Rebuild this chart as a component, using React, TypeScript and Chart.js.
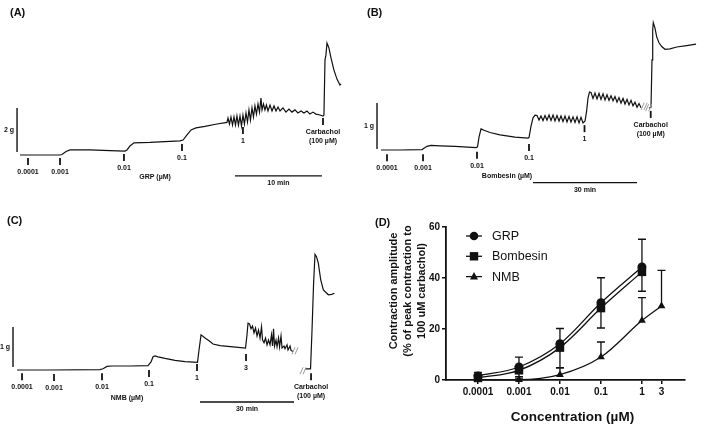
import React, { useEffect, useRef } from "react";
import { Chart, registerables } from "chart.js";
Chart.register(...registerables);

const FONT = "'Liberation Sans', Arial, Helvetica, sans-serif";
const INK = "#111111";

// ---------- Panel A: GRP trace (time in min, tension in g) ----------
const grpTime = [0, 4.6, 4.83, 5.29, 5.75, 8.05, 10.34, 12.07, 12.3, 12.64, 13.1, 14.94, 18.39, 18.74, 19.2, 19.66, 20.23, 21.26, 22.64, 23.79,
  23.91, 24.08, 24.25, 24.43, 24.6, 24.77, 24.94, 25.11, 25.29, 25.46, 25.63, 25.8, 25.98, 26.15, 26.32, 26.49, 26.67, 26.84, 27.01, 27.18,
  27.36, 27.53, 27.7, 27.82, 27.99, 28.16, 28.33, 28.51, 28.74, 28.97, 29.2, 29.43, 29.66, 29.89, 30.23, 30.57, 30.92, 31.26, 31.61, 31.95,
  32.3, 32.64, 32.99, 33.33, 33.68, 34.02, 34.48, 34.83, 34.94, 35.06, 35.17, 35.29, 35.52, 35.75, 36.09, 36.44, 36.78, 36.9];
const grpTension = [0, 0, 0.02, 0.16, 0.23, 0.23, 0.2, 0.18, 0.23, 0.41, 0.55, 0.57, 0.64, 0.68, 0.91, 1.14, 1.23, 1.3, 1.41, 1.48,
  1.68, 1.41, 1.73, 1.36, 1.73, 1.36, 1.77, 1.36, 1.77, 1.32, 1.82, 1.41, 1.91, 1.5, 2.05, 1.59, 2.14, 1.73, 2.23, 1.86,
  2.32, 1.95, 2.59, 2.05, 2.32, 2.05, 2.27, 2.0, 2.27, 2.0, 2.23, 2.0, 2.18, 2.0, 2.14, 1.95, 2.09, 1.95, 2.05, 1.91,
  2.0, 1.91, 2.0, 1.86, 1.95, 1.86, 1.82, 1.77, 1.82, 4.32, 4.55, 5.09, 4.86, 4.41, 3.86, 3.45, 3.18, 3.23];
const grpDoseTime = [0.92, 4.6, 11.95, 18.62, 25.63, 34.83];
const grpDoseLabel = [["0.0001"], ["0.001"], ["0.01"], ["0.1"], ["1"], ["Carbachol", "(100 µM)"]];

// ---------- Panel B: Bombesin trace ----------
const bomTime = [0, 5.48, 11.83, 12.4, 13.27, 14.42, 17.02, 21.35, 27.4, 27.84, 28.27, 28.85, 29.71, 31.44, 34.33, 38.65, 42.4, 42.69, 43.27, 43.85, 44.42,
  45.0, 45.58, 46.15, 46.73, 47.31, 47.88, 48.46, 49.04, 49.62, 50.19, 50.77, 51.35, 51.92, 52.5, 53.08, 53.65, 54.23, 54.81, 55.38, 55.96, 56.54, 57.12, 57.69, 58.27, 58.85,
  59.28, 59.71, 60.14,
  60.58, 61.15, 61.73, 62.31, 62.88, 63.46, 64.04, 64.62, 65.19, 65.77, 66.35, 66.92, 67.5, 68.08, 68.65, 69.23, 69.81, 70.38, 70.96, 71.54, 72.12, 72.69, 73.27, 73.85, 74.42, 75.0,
  76.6,
  77.31, 77.88, 78.17, 78.37, 78.54, 79.03, 79.52, 80.19, 80.97, 81.92, 83.36, 85.3, 88.18, 90.87];
const bomTension = [0, 0, 0.01, 0.04, 0.08, 0.1, 0.09, 0.08, 0.05, 0.07, 0.28, 0.46, 0.43, 0.38, 0.33, 0.28, 0.26, 0.27, 0.52, 0.7, 0.76,
  0.75, 0.65, 0.74, 0.64, 0.75, 0.65, 0.76, 0.64, 0.76, 0.63, 0.75, 0.63, 0.74, 0.62, 0.74, 0.61, 0.73, 0.61, 0.72, 0.6, 0.72, 0.59, 0.71, 0.59, 0.63,
  0.83, 1.13, 1.26,
  1.25, 1.12, 1.24, 1.11, 1.23, 1.1, 1.22, 1.09, 1.2, 1.08, 1.18, 1.07, 1.16, 1.04, 1.14, 1.02, 1.12, 1.0, 1.1, 0.98, 1.08, 0.96, 1.04, 0.93, 1.01, 0.92,
  null,
  0.91, 0.93, 1.96, 2.61, 2.77, 2.65, 2.46, 2.33, 2.25, 2.19, 2.2, 2.24, 2.27, 2.3];
const bomDoseTime = [1.73, 12.12, 27.69, 42.69, 58.7, 77.8];
const bomDoseLabel = [["0.0001"], ["0.001"], ["0.01"], ["0.1"], ["1"], ["Carbachol", "(100 µM)"]];

// ---------- Panel C: NMB trace ----------
const nmbTime = [0, 10.53, 26.49, 27.45, 28.73, 30.32, 36.07, 41.81, 42.77, 43.41, 44.05, 45.01, 47.24, 50.43, 53.62, 57.61, 58.09, 58.73,
  60.01, 61.28, 62.56, 64.79, 68.94, 72.93, 73.41, 73.73, 74.21, 74.69, 75.17, 75.65, 76.13, 76.6, 77.08, 77.56, 78.04, 78.36, 78.84,
  79.32, 79.8, 80.27, 80.75, 81.23, 81.55, 81.87, 82.19, 82.67, 82.99, 83.47, 83.79, 84.26, 84.58, 85.22, 85.54, 86.18, 86.5, 87.14, 87.46, 88.1,
  90.0,
  91.92, 93.68, 94.16, 94.64, 95.11, 95.59, 96.17, 96.94, 97.77, 99.36, 100.45, 101.28];
const nmbTension = [0, 0, 0.01, 0.03, 0.09, 0.1, 0.1, 0.11, 0.2, 0.33, 0.35, 0.33, 0.29, 0.24, 0.21, 0.19, 0.5, 0.88,
  0.8, 0.73, 0.65, 0.61, 0.58, 0.55, 0.88, 1.17, 1.15, 1.03, 1.1, 0.93, 1.05, 0.85, 1.0, 0.8, 1.08, 0.75, 0.68,
  0.8, 0.63, 0.75, 0.63, 0.88, 0.6, 1.03, 0.6, 0.75, 0.58, 0.8, 0.58, 0.85, 0.55, 0.6, 0.53, 0.63, 0.5, 0.6, 0.49, 0.46,
  null,
  0.03, 0.03, 1.0, 2.13, 2.89, 2.83, 2.67, 2.25, 2.0, 1.88, 1.89, 1.92];
const nmbDoseTime = [1.6, 11.81, 27.13, 42.13, 57.45, 73.09, 93.84];
const nmbDoseLabel = [["0.0001"], ["0.001"], ["0.01"], ["0.1"], ["1"], ["3"], ["Carbachol", "(100 µM)"]];

// ---------- Panel D: concentration-response ----------
const concTicks = [0.0001, 0.001, 0.01, 0.1, 1, 3];
const concTickLabels = ["0.0001", "0.001", "0.01", "0.1", "1", "3"];
const grpConc = [0.0001, 0.001, 0.01, 0.1, 1];
const grpMean = [1.6, 5.1, 14.2, 30.3, 44.3];
const grpErrUp = [1.4, 3.9, 6.0, 9.8, 10.9];
const bomConc = [0.0001, 0.001, 0.01, 0.1, 1];
const bomMean = [0.8, 3.8, 12.7, 28.2, 42.4];
const bomErrDown = [0.8, 2.5, 7.9, 7.8, 7.6];
const nmbConc = [0.0001, 0.001, 0.01, 0.1, 1, 3];
const nmbMean = [0.1, 0.1, 2.1, 9.0, 23.3, 29.0];
const nmbErrUp = [0.4, 0.6, 2.7, 5.9, 9.0, 14.0];
const yTickValues = [0, 20, 40, 60];

// ---------- annotation layouts (positions only) ----------
const panelA = {
  time: grpTime, tension: grpTension, doseTime: grpDoseTime, doseLabel: grpDoseLabel,
  markTop: [-0.14, -0.14, 0.05, 0.5, 1.27, 1.68],
  xMin: -2.3, xMax: 38.51, yMin: -2.5, yMax: 7.045,
  letter: "(A)", letterX: 10, letterY: 12.5,
  scaleBar: { t: -0.34, g0: 0.14, g1: 2.14, label: "2 g" },
  timeBar: { t0: 24.71, t1: 34.71, g: -0.95, label: "10 min" },
  agent: { text: "GRP (µM)", t: 15.52, g: -1.0 },
  breaks: [] as any[],
};
const panelB = {
  time: bomTime, tension: bomTension, doseTime: bomDoseTime, doseLabel: bomDoseLabel,
  markTop: [-0.09, -0.09, -0.04, 0.13, 0.54, 0.85],
  xMin: -7.5, xMax: 94.61, yMin: -1.304, yMax: 3.261,
  letter: "(B)", letterX: 12, letterY: 12.5,
  scaleBar: { t: -1.15, g0: 0.02, g1: 1.02, label: "1 g" },
  timeBar: { t0: 43.85, t1: 73.85, g: -0.71, label: "30 min" },
  agent: { text: "Bombesin (µM)", t: 36.35, g: -0.57 },
  breaks: [{ t: 75.9, g: 0.95 }, { t: 77.2, g: 0.92 }],
};
const panelC = {
  time: nmbTime, tension: nmbTension, doseTime: nmbDoseTime, doseLabel: nmbDoseLabel,
  markTop: [-0.08, -0.1, -0.08, 0.0, 0.15, 0.4, -0.08],
  xMin: -5.43, xMax: 109.47, yMin: -1.375, yMax: 4.0,
  letter: "(C)", letterX: 7, letterY: 11,
  scaleBar: { t: -1.28, g0: 0.075, g1: 1.075, label: "1 g" },
  timeBar: { t0: 58.41, t1: 88.41, g: -0.8, label: "30 min" },
  agent: { text: "NMB (µM)", t: 35.11, g: -0.7 },
  breaks: [{ t: 88.73, g: 0.48 }, { t: 91.29, g: -0.02 }],
};

function tracePlugin(p: any) {
  return {
    id: "traceAnnot",
    afterDatasetsDraw(chart: any) {
      const { ctx } = chart;
      const x = chart.scales.x;
      const y = chart.scales.y;
      ctx.save();
      ctx.fillStyle = INK;
      ctx.strokeStyle = INK;
      ctx.textBaseline = "middle";
      ctx.font = `bold 11px ${FONT}`;
      ctx.textAlign = "left";
      ctx.fillText(p.letter, p.letterX, p.letterY);

      ctx.font = `bold 7px ${FONT}`;
      ctx.textAlign = "center";
      p.doseTime.forEach((t: number, i: number) => {
        const px = x.getPixelForValue(t);
        const py = y.getPixelForValue(p.markTop[i]);
        ctx.lineWidth = 1.8;
        ctx.beginPath();
        ctx.moveTo(px, py);
        ctx.lineTo(px, py + 7);
        ctx.stroke();
        p.doseLabel[i].forEach((s: string, k: number) => ctx.fillText(s, px, py + 14 + k * 9));
      });

      // vertical scale bar
      const sb = p.scaleBar;
      const sx = x.getPixelForValue(sb.t);
      const sy0 = y.getPixelForValue(sb.g0);
      const sy1 = y.getPixelForValue(sb.g1);
      ctx.lineWidth = 1.4;
      ctx.beginPath();
      ctx.moveTo(sx, sy0);
      ctx.lineTo(sx, sy1);
      ctx.stroke();
      ctx.textAlign = "right";
      ctx.fillText(sb.label, sx - 3, (sy0 + sy1) / 2);

      // time bar
      const tb = p.timeBar;
      const tx0 = x.getPixelForValue(tb.t0);
      const tx1 = x.getPixelForValue(tb.t1);
      const ty = y.getPixelForValue(tb.g);
      ctx.lineWidth = 1.3;
      ctx.beginPath();
      ctx.moveTo(tx0, ty);
      ctx.lineTo(tx1, ty);
      ctx.stroke();
      ctx.textAlign = "center";
      ctx.fillText(tb.label, (tx0 + tx1) / 2, ty + 7);

      // agent label
      ctx.fillText(p.agent.text, x.getPixelForValue(p.agent.t), y.getPixelForValue(p.agent.g));

      // break marks
      ctx.strokeStyle = "#9a9a9a";
      ctx.lineWidth = 1;
      p.breaks.forEach((b: any) => {
        const bx = x.getPixelForValue(b.t);
        const by = y.getPixelForValue(b.g);
        [-1.5, 1.5].forEach((d) => {
          ctx.beginPath();
          ctx.moveTo(bx + d - 1.5, by + 3.5);
          ctx.lineTo(bx + d + 1.5, by - 3.5);
          ctx.stroke();
        });
      });
      ctx.restore();
    },
  };
}

function makeTrace(canvas: HTMLCanvasElement, p: any) {
  return new Chart(canvas, {
    type: "line",
    data: {
      datasets: [
        {
          data: p.time.map((t: number, i: number) => ({ x: t, y: p.tension[i] })),
          borderColor: INK,
          borderWidth: 1.2,
          pointRadius: 0,
          tension: 0,
          spanGaps: false,
          fill: false,
        },
      ],
    },
    options: {
      responsive: false,
      animation: false,
      events: [],
      layout: { padding: 0 },
      plugins: { legend: { display: false }, tooltip: { enabled: false } },
      scales: {
        x: { type: "linear", display: false, min: p.xMin, max: p.xMax },
        y: { type: "linear", display: false, min: p.yMin, max: p.yMax },
      },
    },
    plugins: [tracePlugin(p)],
  } as any);
}

const doseSeries = [
  { label: "GRP", conc: grpConc, mean: grpMean, up: grpErrUp, down: null as any, style: "circle", r: 4.5 },
  { label: "Bombesin", conc: bomConc, mean: bomMean, up: null as any, down: bomErrDown, style: "rect", r: 6 },
  { label: "NMB", conc: nmbConc, mean: nmbMean, up: nmbErrUp, down: null as any, style: "triangle", r: 4.5 },
];

const doseExtras = {
  id: "doseExtras",
  beforeDatasetsDraw(chart: any) {
    const { ctx } = chart;
    const y = chart.scales.y;
    ctx.save();
    ctx.strokeStyle = INK;
    ctx.lineWidth = 1.3;
    doseSeries.forEach((s, i) => {
      const meta = chart.getDatasetMeta(i);
      s.mean.forEach((m: number, j: number) => {
        const px = meta.data[j].x;
        const py = y.getPixelForValue(m);
        const ends: number[] = [];
        if (s.up) ends.push(y.getPixelForValue(m + s.up[j]));
        if (s.down) ends.push(y.getPixelForValue(Math.max(0, m - s.down[j])));
        ends.forEach((e) => {
          ctx.beginPath();
          ctx.moveTo(px, py);
          ctx.lineTo(px, e);
          ctx.moveTo(px - 4, e);
          ctx.lineTo(px + 4, e);
          ctx.stroke();
        });
      });
    });
    ctx.restore();
  },
  afterDraw(chart: any) {
    const { ctx, chartArea } = chart;
    ctx.save();
    ctx.fillStyle = INK;
    ctx.strokeStyle = INK;
    // panel letter
    ctx.font = `bold 11px ${FONT}`;
    ctx.textAlign = "left";
    ctx.textBaseline = "middle";
    ctx.fillText("(D)", 15, 12.5);
    // legend
    doseSeries.forEach((s, i) => {
      const ly = chartArea.top + 9 + i * 20.3;
      const lx = chartArea.left + 28;
      ctx.lineWidth = 1.3;
      ctx.beginPath();
      ctx.moveTo(chartArea.left + 20, ly);
      ctx.lineTo(chartArea.left + 36, ly);
      ctx.stroke();
      ctx.beginPath();
      if (s.style === "circle") ctx.arc(lx, ly, 4.3, 0, Math.PI * 2);
      else if (s.style === "rect") ctx.rect(lx - 4.2, ly - 4.2, 8.4, 8.4);
      else {
        ctx.moveTo(lx, ly - 4.5);
        ctx.lineTo(lx + 4, ly + 3);
        ctx.lineTo(lx - 4, ly + 3);
        ctx.closePath();
      }
      ctx.fill();
      ctx.font = `12.5px ${FONT}`;
      ctx.fillText(s.label, chartArea.left + 46, ly + 0.5);
    });
    // axis titles
    ctx.font = `bold 11px ${FONT}`;
    ctx.textAlign = "center";
    const yLines = ["Contraction amplitude", "(% of peak contraction to", "100 uM carbachol)"];
    yLines.forEach((t, k) => {
      ctx.save();
      ctx.translate(34 + k * 14.2, 81);
      ctx.rotate(-Math.PI / 2);
      ctx.fillText(t, 0, 0);
      ctx.restore();
    });
    ctx.font = `bold 13.5px ${FONT}`;
    ctx.fillText("Concentration (µM)", 212.5, 207);
    ctx.restore();
  },
};

function makeDose(canvas: HTMLCanvasElement) {
  return new Chart(canvas, {
    type: "line",
    data: {
      datasets: doseSeries.map((s) => ({
        label: s.label,
        data: s.conc.map((c: number, i: number) => ({ x: c, y: s.mean[i] })),
        borderColor: INK,
        backgroundColor: INK,
        borderWidth: 1.3,
        pointStyle: s.style,
        pointRadius: s.r,
        pointBorderWidth: 0,
        cubicInterpolationMode: "monotone",
        clip: false,
        fill: false,
      })),
    },
    options: {
      responsive: false,
      animation: false,
      events: [],
      layout: { padding: { top: 17, right: 24, bottom: 0, left: 0 } },
      plugins: { legend: { display: false }, tooltip: { enabled: false } },
      scales: {
        x: {
          type: "logarithmic",
          min: Math.pow(10, -4.78),
          max: Math.pow(10, 1.05),
          afterBuildTicks: (s: any) => {
            s.ticks = concTicks.map((v) => ({ value: v }));
          },
          afterFit: (s: any) => {
            s.height = 45;
          },
          ticks: {
            callback: (_v: any, i: number) => concTickLabels[i],
            font: { family: FONT, size: 10, weight: "bold" },
            color: INK,
            padding: 2,
            autoSkip: false,
            maxRotation: 0,
          },
          grid: { drawOnChartArea: false, drawTicks: true, tickLength: 4, color: INK, lineWidth: 1.5 },
          border: { display: true, color: INK, width: 1.8 },
        },
        y: {
          type: "linear",
          min: 0,
          max: 60,
          afterBuildTicks: (s: any) => {
            s.ticks = yTickValues.map((v) => ({ value: v }));
          },
          afterFit: (s: any) => {
            s.width = 86;
          },
          ticks: {
            font: { family: FONT, size: 10, weight: "bold" },
            color: INK,
            padding: 2,
          },
          grid: { drawOnChartArea: false, drawTicks: true, tickLength: 4, color: INK, lineWidth: 1.5 },
          border: { display: true, color: INK, width: 1.8 },
        },
      },
    },
    plugins: [doseExtras],
  } as any);
}

function Panel({ left, top, width, height, make }: any) {
  const ref = useRef<HTMLCanvasElement>(null);
  useEffect(() => {
    const chart = make(ref.current as HTMLCanvasElement);
    return () => chart.destroy();
  }, []);
  return (
    <canvas
      ref={ref}
      width={width}
      height={height}
      style={{ position: "absolute", left, top, width, height, display: "block" }}
    />
  );
}

export default function App() {
  return (
    <div style={{ position: "fixed", left: 0, top: 0, width: 709, height: 425, background: "#fff" }}>
      <Panel left={0} top={0} width={355} height={210} make={(c: HTMLCanvasElement) => makeTrace(c, panelA)} />
      <Panel left={355} top={0} width={354} height={210} make={(c: HTMLCanvasElement) => makeTrace(c, panelB)} />
      <Panel left={0} top={210} width={360} height={215} make={(c: HTMLCanvasElement) => makeTrace(c, panelC)} />
      <Panel left={360} top={210} width={349} height={215} make={makeDose} />
    </div>
  );
}
